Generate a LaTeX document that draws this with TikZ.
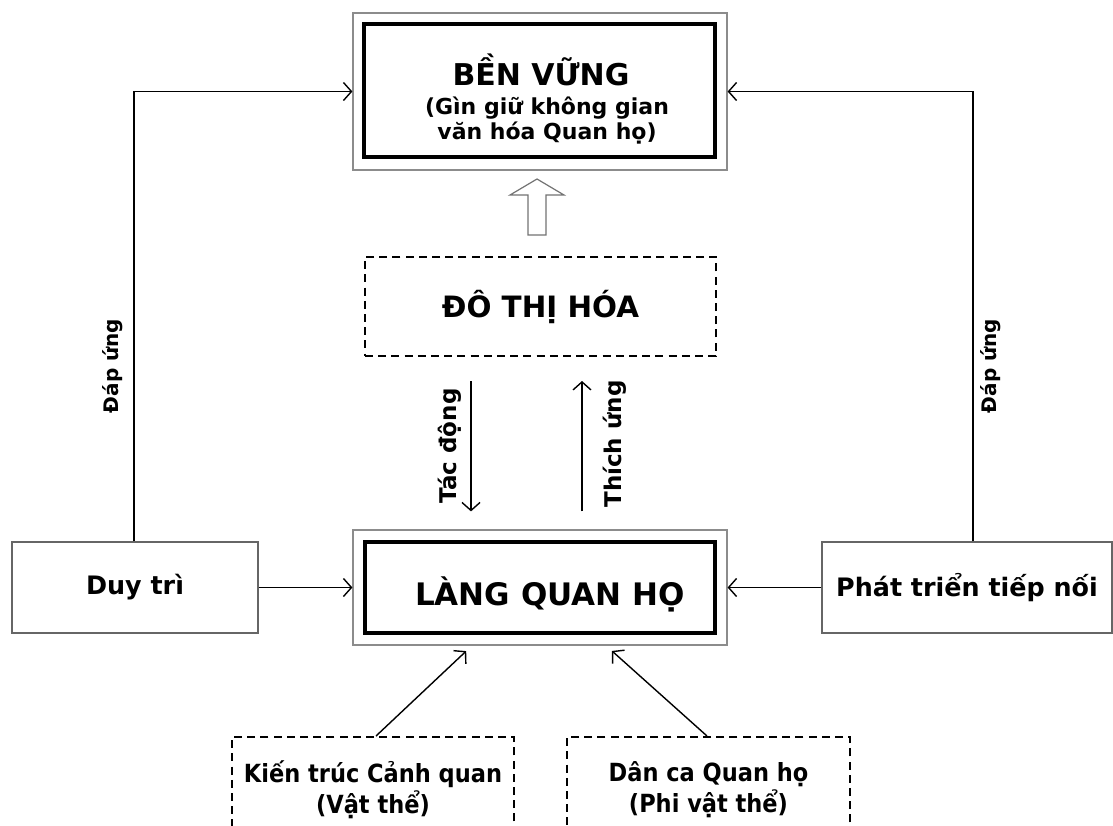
\documentclass[tikz,border=0pt]{standalone}
\usepackage{fontspec}
\setmainfont{DejaVu Sans}
\newfontfamily\condfont{DejaVu Sans Condensed}
\usetikzlibrary{arrows.meta}

\tikzset{
  outerframe/.style={draw=black!45, line width=0.6pt, inner sep=0pt},
  innerframe/.style={draw=black, line width=1.6pt, inner sep=0pt},
  dashframe/.style={draw=black, line width=1pt, dash pattern=on 4pt off 2.6pt, inner sep=0pt},
  plainframe/.style={draw=black!60, line width=0.7pt, inner sep=0pt},
  conn/.style={line width=0.7pt, -{Straight Barb[length=4pt, width=9pt, line width=0.7pt]}},
  lbl/.style={font=\bfseries, inner sep=0pt},
}

\begin{document}
\begin{tikzpicture}[x=0.5pt, y=-0.5pt]
\useasboundingbox (0,0) rectangle (1113,825);
\clip (0,0) rectangle (1113,825);

% top goal box with double frame
\node[outerframe, minimum width=187pt, minimum height=78.5pt] (topout) at (540,91.5) {};
\node[innerframe, minimum width=175.5pt, minimum height=66.5pt] (topin) at (539.5,90.5) {};
\node[lbl, font=\bfseries\fontsize{15}{18}\selectfont] (toptitle) at (541,70) {BỀN VỮNG};
\node[lbl, font=\bfseries\fontsize{11}{12.5}\selectfont, align=center] (topsub) at (547,121)
  {(Gìn giữ không gian\\văn hóa Quan họ)};

% hollow upward arrow
\coordinate (tipa) at (537,179);
\draw[black!55, line width=0.6pt, fill=white]
  (tipa) -- ++(27,16) -- ++(-18,0) -- ++(0,40) -- ++(-18,0) -- ++(0,-40) -- ++(-18,0) -- cycle;

% urbanisation box
\node[dashframe, minimum width=175.5pt, minimum height=49.5pt,
      font=\bfseries\fontsize{14.7}{16}\selectfont] (urban) at (540.5,306.5) {ĐÔ THỊ HÓA};

% village box with double frame
\node[outerframe, minimum width=187pt, minimum height=57.5pt] (langout) at (540,587.5) {};
\node[innerframe, minimum width=175pt, minimum height=45.5pt] (langin) at (540,587.5) {};
\node[lbl, font=\bfseries\fontsize{15.5}{18}\selectfont] (langtxt) at (550,594) {LÀNG QUAN HỌ};

% side boxes
\node[plainframe, minimum width=123pt, minimum height=45.5pt,
      font=\bfseries\fontsize{12.7}{14}\selectfont] (duy) at (135,587.5) {Duy trì};
\node[plainframe, minimum width=145pt, minimum height=45.5pt,
      font=\bfseries\fontsize{12.7}{14}\selectfont] (phat) at (967,587.5) {Phát triển tiếp nối};

% bottom boxes
\node[dashframe, minimum width=141pt, minimum height=53pt, align=center,
      font=\condfont\bfseries\fontsize{12.5}{15.5}\selectfont] (kien) at (373,790)
  {Kiến trúc Cảnh quan\\(Vật thể)};
\node[dashframe, minimum width=141.5pt, minimum height=53pt, align=center,
      font=\condfont\bfseries\fontsize{12.5}{15.5}\selectfont] (danca) at (708.5,790)
  {Dân ca Quan họ\\(Phi vật thể)};

% side feedback loops
\coordinate (lcol) at (134,0);
\coordinate (rcol) at (973,0);
\draw[conn] (duy.north -| lcol) |- (topout.west);
\draw[conn] (phat.north -| rcol) |- (topout.east);
\node[lbl, font=\bfseries\fontsize{10}{12}\selectfont, rotate=90] (dapl) at (113,366) {Đáp ứng};
\node[lbl, font=\bfseries\fontsize{10}{12}\selectfont, rotate=90] (dapr) at (991,366) {Đáp ứng};

% side inputs
\draw[conn] (duy.east) -- (langout.west);
\draw[conn] (phat.west) -- (langout.east);

% impact and adaptation
\coordinate (tcol) at (471,0);
\coordinate (acol) at (582,0);
\draw[conn, shorten <=12pt, shorten >=9pt] (urban.south -| tcol) -- (langout.north -| tcol);
\draw[conn, shorten <=9pt, shorten >=12pt] (langout.north -| acol) -- (urban.south -| acol);
\node[lbl, font=\bfseries\fontsize{11.5}{13}\selectfont, rotate=90] (tac) at (450,446) {Tác động};
\node[lbl, font=\bfseries\fontsize{11.5}{13}\selectfont, rotate=90] (thich) at (615,444) {Thích ứng};

% heritage inputs
\coordinate (kx) at (376,0);
\coordinate (dx) at (707,0);
\coordinate (kend) at (472,0);
\coordinate (dend) at (606,0);
\draw[conn, shorten >=4pt] (kien.north -| kx) -- (langout.south -| kend);
\draw[conn, shorten >=4pt] (danca.north -| dx) -- (langout.south -| dend);
\end{tikzpicture}
\end{document}
